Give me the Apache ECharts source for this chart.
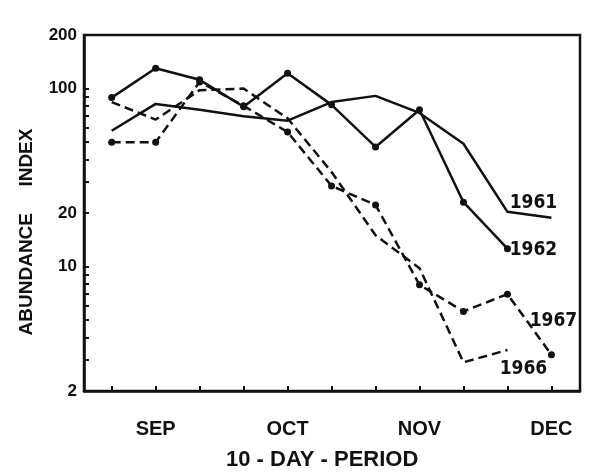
<!DOCTYPE html>
<html>
<head>
<meta charset="utf-8">
<script src="https://cdn.jsdelivr.net/npm/echarts@6/dist/echarts.min.js"></script>
<style>
html,body{margin:0;padding:0;background:#fff;}
#chart{width:600px;height:474px;}
</style>
</head>
<body>
<div id="chart"></div>
<script>
// 10-day periods (0 = first period shown, early September)
const periods = [0, 1, 2, 3, 4, 5, 6, 7, 8, 9, 10];
const monthTicks = [1, 4, 7, 10];
const monthLabels = ['SEP', 'OCT', 'NOV', 'DEC'];
const yLabelValues = [2, 10, 20, 100, 200];
const yTickValues = [2, 3, 4, 5, 6, 7, 8, 9, 10, 20, 30, 40, 50, 60, 70, 80, 90, 100, 200];

const y1961 = [58, 82, 76, 70, 66, 84, 91, 73, 49, 20.3, 18.8];
const y1962 = [89, 130, 112, 79, 122, 81, 47, 76, 23, 12.6];
const y1966 = [84, 67, 98, 100, 68, 34, 15, 9.8, 2.9, 3.4];
const y1967 = [50, 50, 109, 80, 57, 28.4, 22.2, 7.9, 5.6, 7.0, 3.2];

const INK = '#111';
const LABEL_FONT = '"Liberation Sans Narrow", "DejaVu Sans Condensed", "Liberation Sans", sans-serif';
const FONT = '"Liberation Sans", Arial, sans-serif';

function build(vals, name, labelOffset) {
  return vals.map((v, i) => {
    const item = { value: [periods[i], v] };
    if (i === vals.length - 1) {
      item.label = {
        show: true,
        formatter: name,
        position: 'inside',
        offset: labelOffset,
        color: INK,
        fontFamily: LABEL_FONT,
        fontWeight: 'bold',
        fontSize: 19
      };
    }
    return item;
  });
}

const chart = echarts.init(document.getElementById('chart'), null, { renderer: 'canvas' });
chart.setOption({
  animation: false,
  backgroundColor: '#fff',
  grid: {
    left: 84, right: 20, top: 35, bottom: 83,
    show: true, borderColor: INK, borderWidth: 2.5, backgroundColor: 'transparent'
  },
  xAxis: {
    type: 'value',
    min: -0.63,
    max: 10.65,
    splitLine: { show: false },
    axisLine: { show: true, onZero: false, lineStyle: { color: INK, width: 2.5 } },
    axisTick: { show: true, inside: true, length: 5, customValues: periods, lineStyle: { color: INK, width: 2 } },
    axisLabel: {
      customValues: monthTicks,
      formatter: v => monthLabels[monthTicks.indexOf(Math.round(v))] || '',
      color: INK, fontFamily: FONT, fontWeight: 'bold', fontSize: 20, margin: 28
    }
  },
  yAxis: {
    type: 'log',
    logBase: 10,
    min: 2,
    max: 200,
    splitLine: { show: false },
    axisLine: { show: true, onZero: false, lineStyle: { color: INK, width: 2.5 } },
    axisTick: { show: true, inside: true, length: 5, customValues: yTickValues, lineStyle: { color: INK, width: 2 } },
    axisLabel: {
      customValues: yLabelValues,
      color: INK, fontFamily: FONT, fontWeight: 'bold', fontSize: 17, margin: 7
    }
  },
  graphic: [
    {
      type: 'text', x: 27, y: 232,
      rotation: Math.PI / 2,
      style: { text: 'ABUNDANCE     INDEX', fill: INK, font: 'bold 19px ' + FONT, align: 'center', verticalAlign: 'middle' }
    },
    {
      type: 'text', left: 226, top: 449,
      style: { text: '10 - DAY - PERIOD', fill: INK, font: 'bold 22px ' + FONT }
    }
  ],
  series: [
    {
      name: '1961', type: 'line', data: build(y1961, '1961', [-18, -15]),
      symbol: 'circle', symbolSize: 0, showSymbol: true,
      lineStyle: { color: INK, width: 2.5, type: 'solid' }, itemStyle: { color: INK }
    },
    {
      name: '1962', type: 'line', data: build(y1962, '1962', [26, 1]),
      symbol: 'circle', symbolSize: 7,
      lineStyle: { color: INK, width: 2.5, type: 'solid' }, itemStyle: { color: INK }
    },
    {
      name: '1966', type: 'line', data: build(y1966, '1966', [16, 19]),
      symbol: 'circle', symbolSize: 0, showSymbol: true,
      lineStyle: { color: INK, width: 2.5, type: [9, 5] }, itemStyle: { color: INK }
    },
    {
      name: '1967', type: 'line', data: build(y1967, '1967', [2, -34]),
      symbol: 'circle', symbolSize: 7,
      lineStyle: { color: INK, width: 2.5, type: [9, 5] }, itemStyle: { color: INK }
    }
  ]
});
</script>
</body>
</html>
